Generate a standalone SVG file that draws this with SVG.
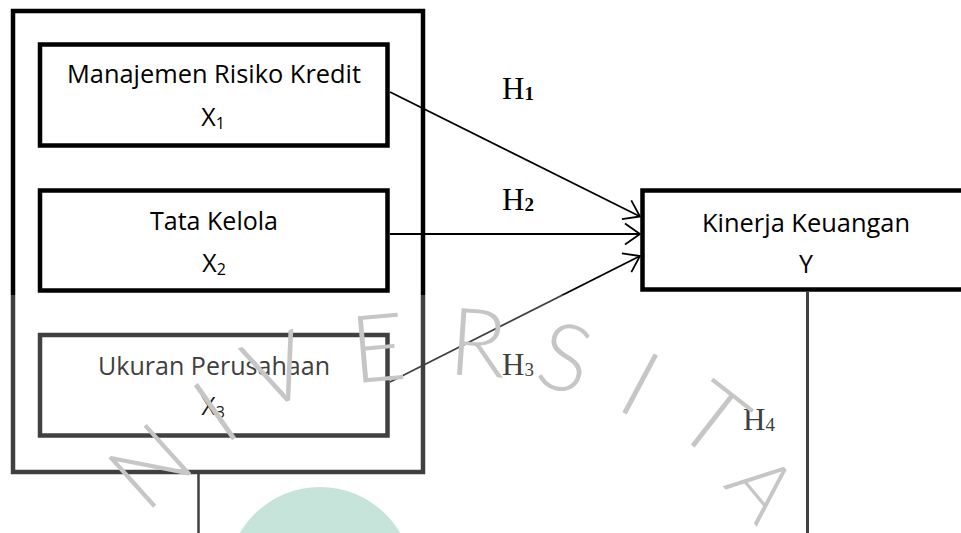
<svg xmlns="http://www.w3.org/2000/svg" width="961" height="533" viewBox="0 0 961 533">
  <style>
    .box { fill: #ffffff; stroke: url(#fade); stroke-width: 4.5; }
    .lbl { font-family: "Open Sans", "Liberation Sans", sans-serif; font-size: 25px; fill: #000; text-anchor: middle; }
    .sub { font-size: 16px; }
    .h { font-family: "Liberation Serif", "DejaVu Serif", serif; font-size: 31px; fill: #000; }
    .hs { font-size: 19px; }
    .edge { stroke: url(#fade); stroke-width: 1.8; fill: none; }
    .wm { font-family: Lato, "Open Sans", sans-serif; font-weight: 300; font-size: 94px; fill: #c6c6c6; text-anchor: middle; }
  </style>
  <defs>
    <linearGradient id="fade" gradientUnits="userSpaceOnUse" x1="0" y1="0" x2="0" y2="533">
      <stop offset="0" stop-color="#000"/>
      <stop offset="0.5535" stop-color="#000"/>
      <stop offset="0.5535" stop-color="#404040"/>
      <stop offset="1" stop-color="#404040"/>
    </linearGradient>
    <marker id="arr" markerUnits="userSpaceOnUse" markerWidth="20" markerHeight="24" viewBox="-17 -12 20 24" refX="0" refY="0" orient="auto">
      <path d="M-15,-10.5 L0,0 L-15,10.5" fill="none" stroke="#000" stroke-width="1.8"/>
    </marker>
  </defs>
  <rect width="961" height="533" fill="#ffffff"/>

  <g id="group-x">
    <rect class="box" x="13" y="11" width="410" height="461"/>
  </g>

  <g id="node-x1">
    <rect class="box" x="40" y="44.5" width="347.5" height="101"/>
    <text class="lbl" x="214" y="83" textLength="294" lengthAdjust="spacingAndGlyphs">Manajemen Risiko Kredit</text>
    <text class="lbl" x="213" y="126">X<tspan class="sub" dy="3">1</tspan></text>
  </g>

  <g id="node-x2">
    <rect class="box" x="40" y="190.5" width="347.5" height="100"/>
    <text class="lbl" x="214" y="230" textLength="128" lengthAdjust="spacingAndGlyphs">Tata Kelola</text>
    <text class="lbl" x="214" y="272">X<tspan class="sub" dy="3">2</tspan></text>
  </g>

  <g id="node-x3">
    <rect class="box" x="40" y="335" width="347.5" height="100.5"/>
    <text class="lbl" x="214" y="375" style="fill:#404040" textLength="232" lengthAdjust="spacingAndGlyphs">Ukuran Perusahaan</text>
    <text class="lbl" x="213" y="415" style="fill:#1a1a1a">X<tspan class="sub" dy="3">3</tspan></text>
  </g>

  <g id="node-y">
    <rect class="box" x="642.5" y="190.5" width="360" height="99"/>
    <text class="lbl" x="806" y="232" textLength="208" lengthAdjust="spacingAndGlyphs">Kinerja Keuangan</text>
    <text class="lbl" x="806" y="273">Y</text>
  </g>

  <g id="connectors">
    <line class="edge" x1="390" y1="92" x2="640" y2="216.5" marker-end="url(#arr)"/>
    <line class="edge" x1="390" y1="234" x2="640" y2="234" marker-end="url(#arr)"/>
    <line class="edge" x1="390" y1="382" x2="640" y2="256" marker-end="url(#arr)"/>
    <line x1="198.5" y1="473" x2="198.5" y2="533" stroke="#404040" stroke-width="2.5"/>
    <line x1="807.5" y1="291" x2="807.5" y2="533" stroke="#404040" stroke-width="3"/>
  </g>

  <g id="labels">
    <text class="h" x="502" y="99">H<tspan class="hs" font-weight="bold" dy="1">1</tspan></text>
    <text class="h" x="502" y="210">H<tspan class="hs" font-weight="bold" dy="1">2</tspan></text>
    <text class="h" x="502" y="375" style="fill:#404040">H<tspan class="hs" dy="1">3</tspan></text>
    <text class="h" x="743" y="430" style="fill:#404040">H<tspan class="hs" dy="1">4</tspan></text>
  </g>

  <g id="watermark">
    <circle cx="320" cy="580" r="93" fill="#c6e4d9"/>
    <text class="wm" transform="translate(150,466) rotate(-42)" y="33">N</text>
    <text class="wm" transform="translate(215,412) rotate(-35)" y="33">I</text>
    <text class="wm" transform="translate(277,370) rotate(-20)" y="33">V</text>
    <text class="wm" transform="translate(378,348) rotate(-5)" y="33">E</text>
    <text class="wm" transform="translate(478,343) rotate(4)" y="33">R</text>
    <text class="wm" transform="translate(565,358) rotate(15)" y="33">S</text>
    <text class="wm" transform="translate(640,384) rotate(28)" y="33">I</text>
    <text class="wm" transform="translate(713,420) rotate(38)" y="33">T</text>
    <text class="wm" transform="translate(762,488) rotate(50)" y="29" style="font-size:84px">A</text>
  </g>
</svg>
